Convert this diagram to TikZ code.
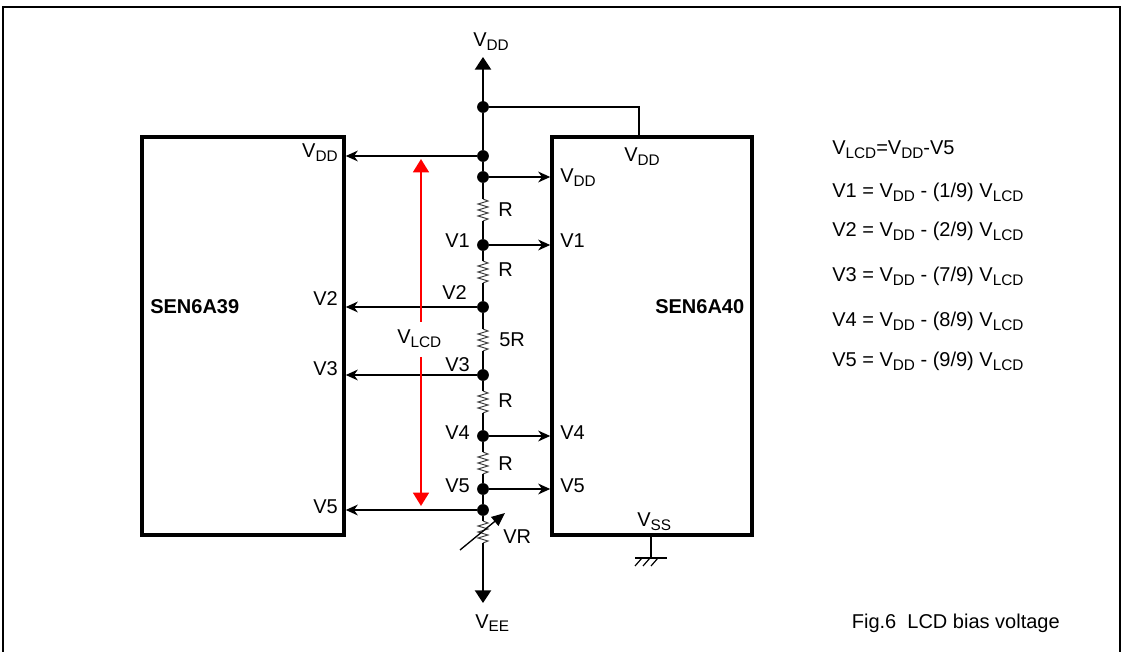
\documentclass[tikz,border=0pt]{standalone}
\usepackage{fontspec}
\setmainfont{Liberation Sans}
\usetikzlibrary{arrows.meta,calc}
\newcommand{\sbs}[1]{\raisebox{-2.6pt}{\fontsize{11.5}{12}\selectfont #1}}
\begin{document}
\begin{tikzpicture}[x=0.75pt,y=-0.75pt,
  wire/.style={line width=1.9pt},
  boxst/.style={draw,line width=2.6pt,inner sep=0pt,minimum height=298.5pt},
  res/.style={draw=black!75,line width=0.75pt},
  lbl/.style={inner sep=0pt,font=\fontsize{15}{17}\selectfont},
  dotst/.style={circle,fill=black,inner sep=0pt,minimum size=8.8pt},
  sarr/.style={-{Stealth[length=9pt,width=8pt,inset=2.8pt]}},
  bigarr/.style={-{Triangle[length=9.5pt,width=12pt]}},
  redarr/.style={draw=red,line width=1.8pt,-{Triangle[length=10pt,width=11.8pt]}},
  resz/.pic={\draw[res] (0,-11) -- (5,-9) -- (-5,-6) -- (5,-3) -- (-5,0) -- (5,3) -- (-5,6) -- (5,9) -- (0,11);}
]
\useasboundingbox (0,0) rectangle (1122,652);
% outer frame
\draw[line width=1.8pt] (3,660) -- (3,7) -- (1120,7) -- (1120,660);

% boxes
\node[boxst,minimum width=151.5pt] (lbox) at (243,336) {};
\node[boxst,minimum width=150pt] (rbox) at (652,336) {};

% junctions
\node[dotst] (jtop) at (483,107) {};
\node[dotst] (jl0) at (483,156) {};
\node[dotst] (jr0) at (483,177) {};
\node[dotst] (j1) at (483,245) {};
\node[dotst] (j2) at (483,307) {};
\node[dotst] (j3) at (483,375) {};
\node[dotst] (j4) at (483,436) {};
\node[dotst] (j5) at (483,489) {};
\node[dotst] (jl5) at (483,510) {};
\coordinate (vddtip) at (483,57);
\coordinate (veetip) at (483,603);

% resistors
\foreach \n/\y in {ra/210,rb/272,rc/340,rd/402,re/463,rv/532}{
  \coordinate (\n t) at (483,\y-11);
  \coordinate (\n b) at (483,\y+11);
  \pic at (483,\y) {resz};
}

% bus
\draw[wire,bigarr] (jtop.center) -- (vddtip);
\draw[wire] (jtop) -- (jl0) -- (jr0);
\draw[wire] (jr0) -- (rat);
\draw[wire] (rab) -- (j1) -- (rbt);
\draw[wire] (rbb) -- (j2) -- (rct);
\draw[wire] (rcb) -- (j3) -- (rdt);
\draw[wire] (rdb) -- (j4) -- (ret);
\draw[wire] (reb) -- (j5) -- (jl5) -- (rvt);
\draw[wire,bigarr] (rvb) -- (veetip);

% VDD to right box top
\coordinate (rpin) at (639,137);
\draw[wire] (jtop) -| (rpin);

% arrows to right box
\foreach \j in {jr0,j1,j4,j5}{
  \draw[wire,sarr] (\j) -- (\j -| rbox.west);
}
% arrows to left box
\foreach \j in {jl0,j2,j3,jl5}{
  \draw[wire,sarr] (\j) -- (\j -| lbox.east);
}

% variable resistor arrow
\coordinate (vra) at (460,550);
\coordinate (vrb) at (505,513);
\draw[line width=1pt,-{Triangle[length=10pt,width=8.5pt]}] (vra) -- (vrb);

% VLCD red arrow
\coordinate (rla) at (421,322);
\coordinate (rlt) at (421,159);
\coordinate (rlb) at (421,357);
\coordinate (rlz) at (421,506);
\draw[redarr] (rla) -- (rlt);
\draw[redarr] (rlb) -- (rlz);

% ground
\coordinate (gtop) at (651,535);
\coordinate (gbot) at (651,558);
\draw[wire] (gtop) -- (gbot);
\draw[line width=1.4pt] (635,558) -- (667,558);
\draw[line width=0.9pt] (635,566) -- (642,558) (643,566) -- (650,558) (651,566) -- (658,558);

% labels
\node[lbl,anchor=base west] (tvdd) at (473,47) {V\sbs{DD}};
\node[lbl,anchor=base west] (tvee) at (475,628) {V\sbs{EE}};
\node[lbl,anchor=base east] (lvdd) at (338,158) {V\sbs{DD}};
\node[lbl,anchor=base east] (lv2) at (338,306) {V2};
\node[lbl,anchor=base east] (lv3) at (338,376) {V3};
\node[lbl,anchor=base east] (lv5) at (338,513) {V5};
\node[lbl,anchor=base west] (rvddt) at (624,162) {V\sbs{DD}};
\node[lbl,anchor=base west] (rvddi) at (560,183) {V\sbs{DD}};
\node[lbl,anchor=base west] (rv1) at (560,248) {V1};
\node[lbl,anchor=base west] (rv4) at (560,440) {V4};
\node[lbl,anchor=base west] (rv5) at (560,493) {V5};
\node[lbl,anchor=base west] (rvss) at (637,527) {V\sbs{SS}};
\node[lbl,anchor=base east] (bv1) at (470,248) {V1};
\node[lbl,anchor=base east] (bv2) at (467,300) {V2};
\node[lbl,anchor=base east] (bv3) at (470,372) {V3};
\node[lbl,anchor=base east] (bv4) at (470,440) {V4};
\node[lbl,anchor=base east] (bv5) at (470,493) {V5};
\node[lbl,anchor=base west] (ra) at (498,217) {R};
\node[lbl,anchor=base west] (rb) at (498,277) {R};
\node[lbl,anchor=base west] (rc) at (499,347) {5R};
\node[lbl,anchor=base west] (rd) at (498,408) {R};
\node[lbl,anchor=base west] (re) at (498,470) {R};
\node[lbl,anchor=base west] (rvl) at (503,543) {VR};
\node[lbl,anchor=base west] (vlcd) at (397,344) {V\sbs{LCD}};
\node[lbl,anchor=base west,font=\fontsize{15}{17}\selectfont\bfseries] (n39) at (150,314) {SEN6A39};
\node[lbl,anchor=base west,font=\fontsize{15}{17}\selectfont\bfseries] (n40) at (655,314) {SEN6A40};

% equations
\node[lbl,anchor=base west] (e0) at (832,155) {V\sbs{LCD}=V\sbs{DD}-V5};
\node[lbl,anchor=base west] (e1) at (832,198) {V1 = V\sbs{DD} - (1/9) V\sbs{LCD}};
\node[lbl,anchor=base west] (e2) at (832,237) {V2 = V\sbs{DD} - (2/9) V\sbs{LCD}};
\node[lbl,anchor=base west] (e3) at (832,282) {V3 = V\sbs{DD} - (7/9) V\sbs{LCD}};
\node[lbl,anchor=base west] (e4) at (832,327) {V4 = V\sbs{DD} - (8/9) V\sbs{LCD}};
\node[lbl,anchor=base west] (e5) at (832,367) {V5 = V\sbs{DD} - (9/9) V\sbs{LCD}};
\node[lbl,anchor=base east] (fig) at (1060,628) {Fig.6\ \ LCD bias voltage};
\end{tikzpicture}
\end{document}
